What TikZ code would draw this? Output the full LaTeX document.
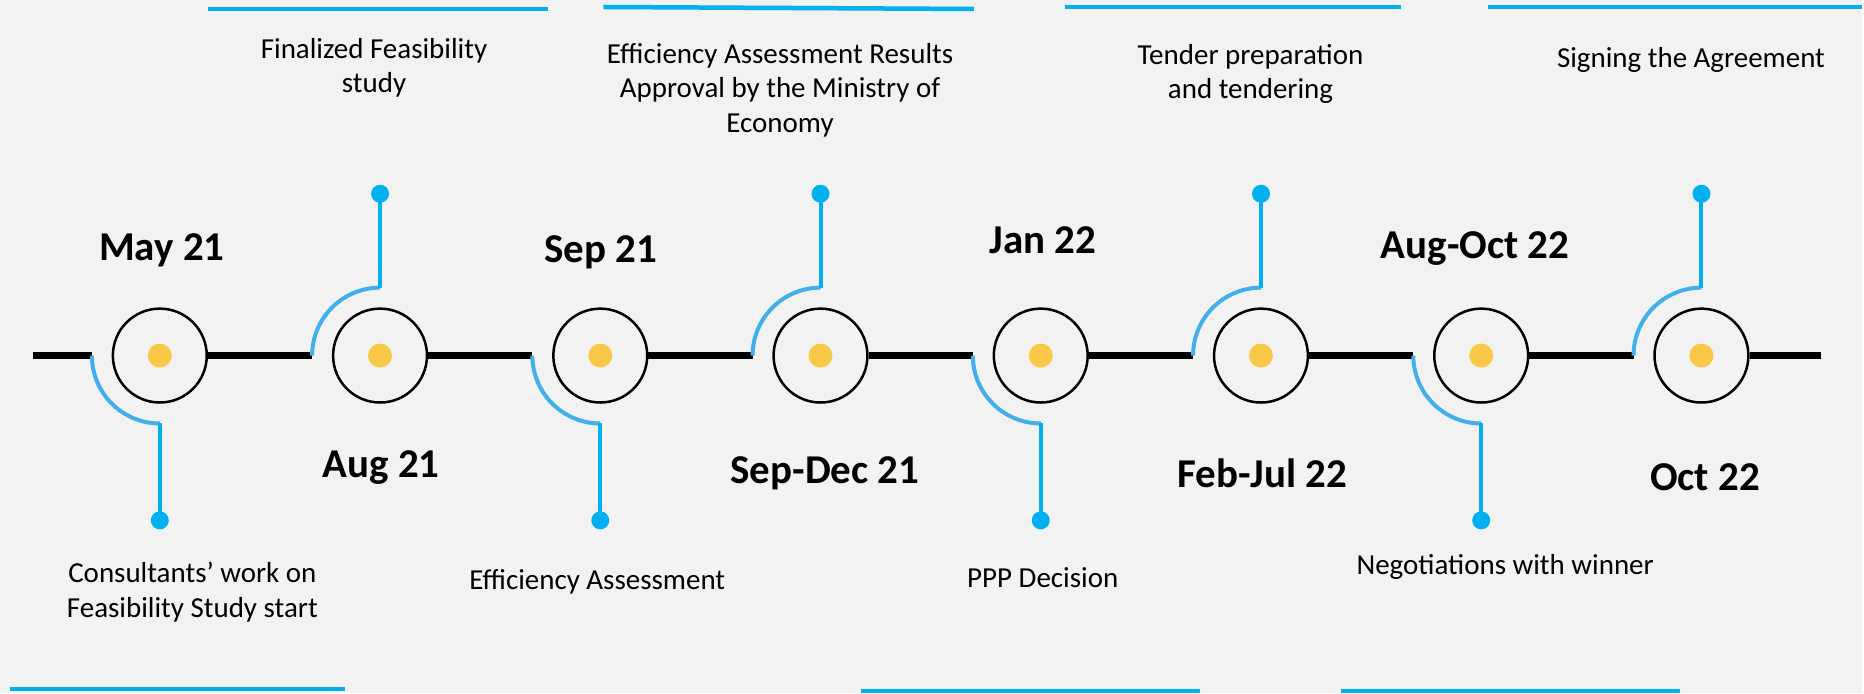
\documentclass[tikz,border=0pt]{standalone}
\usepackage{fontspec}
\setmainfont{Carlito}
\usetikzlibrary{calc}
\definecolor{pageback}{RGB}{242,242,242}
\definecolor{pinblue}{RGB}{0,176,240}
\definecolor{arcblue}{RGB}{65,175,235}
\definecolor{sunny}{RGB}{250,200,72}

\begin{document}
\begin{tikzpicture}[x=1pt,y=1pt,
  ring/.style={draw,circle,line width=2.5pt,minimum size=94pt,inner sep=0pt},
  core/.style={fill=sunny,circle,minimum size=24pt,inner sep=0pt},
  pin/.style={fill=pinblue,circle,minimum size=18pt,inner sep=0pt},
  track/.style={line width=7pt},
  hook/.style={draw=arcblue,line width=4pt},
  stem/.style={draw=pinblue,line width=4pt},
  bar/.style={draw=pinblue,line width=4.5pt},
  date/.style={font=\fontsize{41}{49}\selectfont\bfseries,anchor=base},
  note/.style={font=\fontsize{29}{34.5}\selectfont,align=center,anchor=north}]
\fill[pageback] (0,0) rectangle (1864,694);
% milestones
\node[ring] (c1) at (160,338){};
\node[ring] (c2) at (380.5,338){};
\node[ring] (c3) at (601,338){};
\node[ring] (c4) at (821.5,338){};
\node[ring] (c5) at (1042,338){};
\node[ring] (c6) at (1262.5,338){};
\node[ring] (c7) at (1483,338){};
\node[ring] (c8) at (1703.5,338){};
\node[core] at (c1){};
\node[core] at (c2){};
\node[core] at (c3){};
\node[core] at (c4){};
\node[core] at (c5){};
\node[core] at (c6){};
\node[core] at (c7){};
\node[core] at (c8){};
% arc starts on the track
\coordinate (t0) at (33,338);
\coordinate (t9) at (1823,338);
\coordinate (a1) at ($(c1)+(-68,0)$);
\coordinate (a2) at ($(c2)+(-68,0)$);
\coordinate (a3) at ($(c3)+(-68,0)$);
\coordinate (a4) at ($(c4)+(-68,0)$);
\coordinate (a5) at ($(c5)+(-68,0)$);
\coordinate (a6) at ($(c6)+(-68,0)$);
\coordinate (a7) at ($(c7)+(-68,0)$);
\coordinate (a8) at ($(c8)+(-68,0)$);
\draw[track] (t0) -- (a1);
\draw[track] (c1) -- (a2);
\draw[track] (c2) -- (a3);
\draw[track] (c3) -- (a4);
\draw[track] (c4) -- (a5);
\draw[track] (c5) -- (a6);
\draw[track] (c6) -- (a7);
\draw[track] (c7) -- (a8);
\draw[track] (c8) -- (t9);
% pins
\node[pin] (p1) at (160,173){};
\node[pin] (p2) at (380.5,500){};
\node[pin] (p3) at (601,173){};
\node[pin] (p4) at (821.5,500){};
\node[pin] (p5) at (1042,173){};
\node[pin] (p6) at (1262.5,500){};
\node[pin] (p7) at (1483,173){};
\node[pin] (p8) at (1703.5,500){};
\draw[hook] (a1) arc (180:270:68) coordinate (k1);
\draw[hook] (a2) arc (180:90:68) coordinate (k2);
\draw[hook] (a3) arc (180:270:68) coordinate (k3);
\draw[hook] (a4) arc (180:90:68) coordinate (k4);
\draw[hook] (a5) arc (180:270:68) coordinate (k5);
\draw[hook] (a6) arc (180:90:68) coordinate (k6);
\draw[hook] (a7) arc (180:270:68) coordinate (k7);
\draw[hook] (a8) arc (180:90:68) coordinate (k8);
\draw[stem] (k1) -- (p1.center);
\draw[stem] (k2) -- (p2.center);
\draw[stem] (k3) -- (p3.center);
\draw[stem] (k4) -- (p4.center);
\draw[stem] (k5) -- (p5.center);
\draw[stem] (k6) -- (p6.center);
\draw[stem] (k7) -- (p7.center);
\draw[stem] (k8) -- (p8.center);
% dates
\node[date] (d1) at (162,433.5){May 21};
\node[date] (d2) at (381.5,215.5){Aug 21};
\node[date] (d3) at (601.5,431.5){Sep 21};
\node[date] (d4) at (826,209.5){Sep-Dec 21};
\node[date] (d5) at (1044,440.5){Jan 22};
\node[date] (d6) at (1264,206){Feb-Jul 22};
\node[date] (d7) at (1477,435.5){Aug-Oct 22};
\node[date] (d8) at (1707,202.5){Oct 22};
% notes
\node[note] (n1) at (192.6,134.5){Consultants’ work on\\Feasibility Study start};
\node[note] (n2) at (374.5,659.5){Finalized Feasibility\\study};
\node[note] (n3) at (598,127.5){Efficiency Assessment};
\node[note] (n4) at (781,654.5){Efficiency Assessment Results\\Approval by the Ministry of\\Economy};
\node[note] (n5) at (1044,129.5){PPP Decision};
\node[note] (n6) at (1252,653.5){Tender preparation\\and tendering};
\node[note] (n7) at (1507,142.5){Negotiations with winner};
\node[note] (n8) at (1693,650.5){Signing the Agreement};
% bars
\draw[bar] (208,685) -- (549,685);
\draw[bar] (604,687) -- (975,685);
\draw[bar] (1066,687) -- (1403,687);
\draw[bar] (1490,687) -- (1864,687);
\draw[bar] (10,4) -- (345,4);
\draw[bar] (862,2) -- (1201,2);
\draw[bar] (1343,2) -- (1682,2);
\end{tikzpicture}
\end{document}
